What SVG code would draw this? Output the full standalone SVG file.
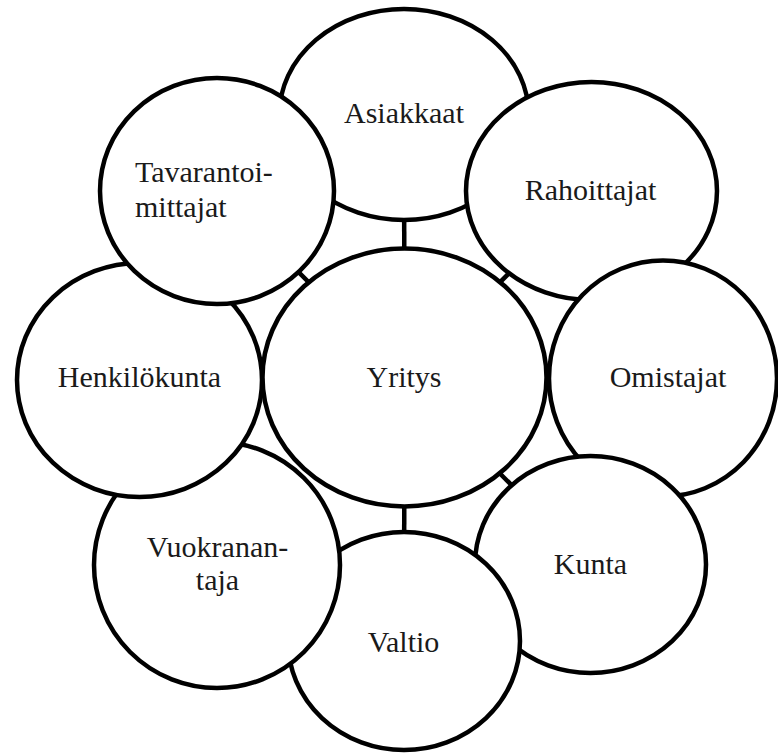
<svg xmlns="http://www.w3.org/2000/svg" width="778" height="753" viewBox="0 0 778 753">
<style>
.c{fill:#fff;stroke:#000;stroke-width:4.5}
.k{stroke:#000;stroke-width:4.5}
.t{font-family:"Liberation Serif","Times New Roman",serif;font-size:30px;fill:#1a1a1a;text-anchor:middle}
</style>
<rect width="778" height="753" fill="#fff"/>
<g id="connectors">
<line class="k" x1="404.5" y1="377.5" x2="404" y2="114.5"/>
<line class="k" x1="404.5" y1="377.5" x2="591.5" y2="191"/>
<line class="k" x1="404.5" y1="377.5" x2="590.5" y2="564.5"/>
<line class="k" x1="404.5" y1="377.5" x2="404" y2="641"/>
<line class="k" x1="404.5" y1="377.5" x2="217" y2="191"/>
</g>
<g id="yritys">
<ellipse class="c" cx="404.5" cy="377.5" rx="142" ry="129"/>
<text class="t" x="404" y="387">Yritys</text>
</g>
<g id="asiakkaat">
<ellipse class="c" cx="404" cy="114.5" rx="124.6" ry="105.5"/>
<text class="t" x="404" y="123">Asiakkaat</text>
</g>
<g id="rahoittajat">
<ellipse class="c" cx="591.5" cy="191" rx="125.5" ry="109"/>
<text class="t" x="590.5" y="200">Rahoittajat</text>
</g>
<g id="omistajat">
<ellipse class="c" cx="663" cy="378.5" rx="114" ry="118"/>
<text class="t" x="668" y="387">Omistajat</text>
</g>
<g id="kunta">
<ellipse class="c" cx="590.5" cy="564.5" rx="115.5" ry="108.5"/>
<text class="t" x="590.5" y="574">Kunta</text>
</g>
<g id="valtio">
<ellipse class="c" cx="404" cy="641" rx="116" ry="109"/>
<text class="t" x="403.5" y="652">Valtio</text>
</g>
<g id="vuokranantaja">
<ellipse class="c" cx="217" cy="565" rx="123" ry="123"/>
<text class="t" x="217.5" y="557">Vuokranan-</text>
<text class="t" x="217.5" y="590">taja</text>
</g>
<g id="henkilokunta">
<ellipse class="c" cx="139.5" cy="380" rx="122.5" ry="117"/>
<text class="t" x="139.5" y="387">Henkilökunta</text>
</g>
<g id="tavarantoimittajat">
<ellipse class="c" cx="217" cy="191" rx="117" ry="113"/>
<text class="t" x="135" y="182" style="text-anchor:start">Tavarantoi-</text>
<text class="t" x="135" y="217" style="text-anchor:start">mittajat</text>
</g>
</svg>
